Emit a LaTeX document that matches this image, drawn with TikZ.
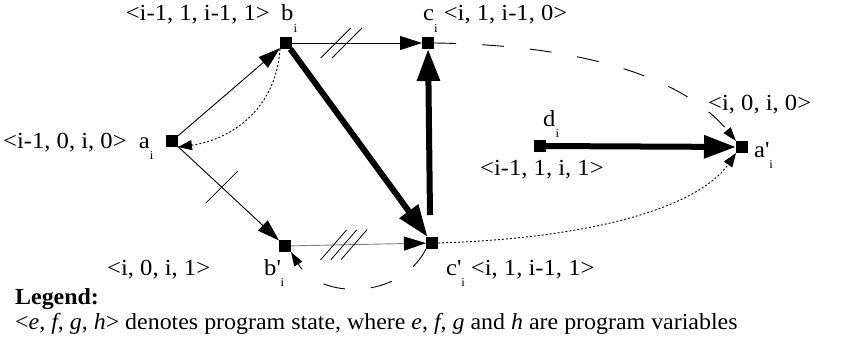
\documentclass[tikz,border=0pt]{standalone}
\usepackage{fontspec}
\setmainfont{Liberation Serif}[FakeStretch=1.07]
\newfontfamily\legfont{Liberation Serif}[FakeStretch=1.04]
\usetikzlibrary{arrows.meta,calc}
\newcommand\isub[1]{\raisebox{-0.5em}{\fontsize{12}{12}\selectfont #1}}
\newcommand\pr{\textquotesingle}
\begin{document}
\begin{tikzpicture}[x=1pt,y=-1pt,
  st/.style={fill=black,minimum size=12pt,inner sep=0pt,outer sep=0pt},
  lab/.style={font=\fontsize{23}{27}\selectfont,inner sep=0pt},
  leglab/.style={font=\legfont\fontsize{23}{27}\selectfont,inner sep=0pt},
  thinarr/.style={line width=0.9pt,-{Triangle[length=22pt,width=14pt,color=black]}},
  thickarr/.style={line width=6pt,-{Triangle[length=32pt,width=22pt]}},
  dotarr/.style={line width=0.9pt,dash pattern=on 2pt off 2pt,-{Triangle[length=14pt,width=10pt]}},
  dasharr/.style={line width=0.9pt,dash pattern=on 22pt off 26pt,-{Triangle[length=14pt,width=9pt]}},
  slash/.style={line width=0.8pt}
]
\useasboundingbox (0,0) rectangle (842,345);
% states
\node[st] (a) at (172,141) {};
\node[st] (b) at (286,43) {};
\node[st] (c) at (428,43) {};
\node[st] (d) at (540,146) {};
\node[st] (ap) at (742,147) {};
\node[st] (bp) at (285,246) {};
\node[st] (cp) at (432,243) {};
% thin edges
\draw[thinarr] (a) -- (b);
\draw[thinarr] (a) -- (bp);
\draw[thinarr] (b) -- (c);
\draw[thinarr,draw=gray] (bp) -- (cp);
% slashes
\coordinate (s1) at ($(a)!0.44!(bp)$);
\draw[slash] (s1) +(-16,16) -- +(16,-16);
\coordinate (s2) at ($(b)!0.35!(c)$);
\coordinate (s3) at ($(b)!0.43!(c)$);
\draw[slash] (s2) +(-15,15) -- +(15,-15);
\draw[slash] (s3) +(-15,15) -- +(15,-15);
\coordinate (s4) at ($(bp)!0.33!(cp)$);
\coordinate (s5) at ($(bp)!0.40!(cp)$);
\coordinate (s6) at ($(bp)!0.47!(cp)$);
\draw[slash] (s4) +(-13,15) -- +(13,-15);
\draw[slash] (s5) +(-13,15) -- +(13,-15);
\draw[slash] (s6) +(-13,15) -- +(13,-15);
% thick edges
\draw[thickarr] (b) -- (cp);
\draw[thickarr] ($(cp)+(-2,-28)$) -- (c);
\draw[thickarr] (d) -- (ap);
% curves
\draw[dotarr] (b.south west) .. controls (276,110) and (230,140) .. (a.south east);
\draw[dotarr] (cp.east) .. controls (600,238) and (700,205) .. (ap.south west);
\draw[dasharr] (c.east) .. controls (600,45) and (690,85) .. (ap.north west);
\draw[dasharr] (cp.south west) .. controls (400,300) and (320,300) .. (bp.south east);
% labels
\node[lab,anchor=base east] (la) at (270,21) {<i-1, 1, i-1, 1>};
\node[lab,anchor=base west] (nb) at (281,21) {b\isub{i}};
\node[lab,anchor=base west] (nc) at (423,21) {c\isub{i} <i, 1, i-1, 0>};
\node[lab,anchor=base west] (lap) at (708,110) {<i, 0, i, 0>};
\node[lab,anchor=base west] (nap) at (754,157) {a\pr\isub{i}};
\node[lab,anchor=base west] (nd) at (543,126) {d\isub{i}};
\node[lab,anchor=base west] (ld) at (480,175) {<i-1, 1, i, 1>};
\node[lab,anchor=base west] (la2) at (3,148) {<i-1, 0, i, 0>\ \ a\isub{i}};
\node[lab,anchor=base west] (lbp) at (107,275) {<i, 0, i, 1>};
\node[lab,anchor=base west] (nbp) at (264,275) {b\pr\isub{i}};
\node[lab,anchor=base west] (ncp) at (446,275) {c\pr\isub{i} <i, 1, i-1, 1>};
\node[leglab,anchor=base west] (leg) at (15,304) {\textbf{Legend:}};
\node[leglab,anchor=base west] (legt) at (15,329) {<\textit{e}, \textit{f}, \textit{g}, \textit{h}> denotes program state, where \textit{e}, \textit{f}, \textit{g} and \textit{h} are program variables};
\end{tikzpicture}
\end{document}
